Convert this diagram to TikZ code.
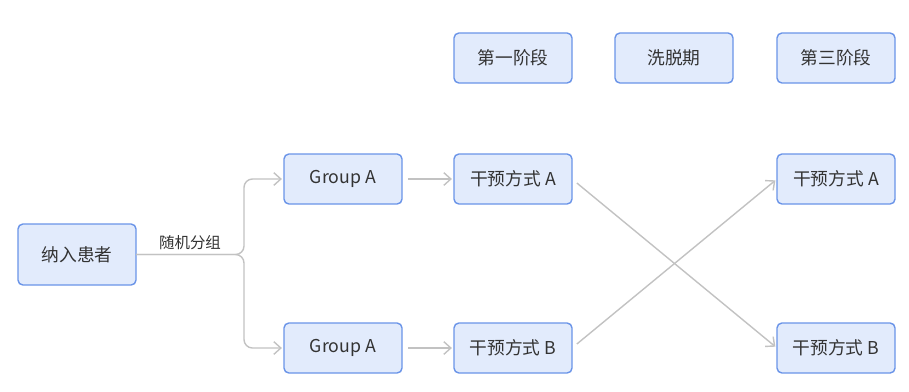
\documentclass[tikz,border=0pt]{standalone}
\usepackage{fontspec}
\newfontfamily\cjk{Noto Sans CJK SC}
\usetikzlibrary{positioning, arrows.meta, calc}

\definecolor{boxfill}{HTML}{E2EBFC}
\definecolor{boxline}{HTML}{6A94E8}
\definecolor{linkgray}{HTML}{C2C2C2}
\definecolor{textgray}{HTML}{333333}

\begin{document}
\begin{tikzpicture}[
    block/.style={
        rectangle,
        rounded corners=3.5pt,
        draw=boxline,
        fill=boxfill,
        line width=1pt,
        outer sep=0pt,
        align=center,
        text=textgray,
        font=\cjk\fontsize{12.6}{14}\selectfont,
        minimum width=2.95cm,
        minimum height=1.25cm
    },
    link/.style={
        -{Straight Barb[length=5pt,width=9pt]},
        draw=linkgray,
        line width=1pt,
        shorten <=4.5pt,
        shorten >=1.5pt
    },
    edgelabel/.style={
        text=textgray,
        font=\cjk\fontsize{11}{13}\selectfont
    }
]
\useasboundingbox (0,0) rectangle (22.725,-9.775);

% ------------------------------------------------------------------
% STAGES
% ------------------------------------------------------------------

\node[block, minimum height=1.525cm] (patient) at (1.925,-6.3625) {纳入患者};

\node[block] (groupa) at (8.575,-4.475) {Group A};
\node[block] (groupb) at (8.575,-8.7) {Group A};

\node[block, right=1.3cm of groupa] (treata) {干预方式 A};
\node[block, right=1.3cm of groupb] (treatb) {干预方式 B};

\node[block, right=5.125cm of treata] (crossa) {干预方式 A};
\node[block, right=5.125cm of treatb] (crossb) {干预方式 B};

% ------------------------------------------------------------------
% PHASE HEADERS
% ------------------------------------------------------------------

\node[block, above=1.775cm of treata] (phase1) {第一阶段};
\node[block, right=1.075cm of phase1] (washout) {洗脱期};
\node[block, above=1.775cm of crossa] (phase3) {第三阶段};

% ------------------------------------------------------------------
% CONNECTIONS
% ------------------------------------------------------------------

\coordinate[right=2.7cm of patient.east] (split);

\draw[link, rounded corners=6pt, shorten <=0pt] (patient.east) -- (split) |- (groupa.west);
\draw[link, rounded corners=6pt, shorten <=0pt] (patient.east) -- (split) |- (groupb.west);
\node[edgelabel, above=0pt] at ($(patient.east)!0.5!(split)$) {随机分组};

\draw[link] (groupa) -- (treata);
\draw[link] (groupb) -- (treatb);

\draw[link] (treata.east) -- (crossb.west);
\draw[link] (treatb.east) -- (crossa.west);

\end{tikzpicture}
\end{document}
